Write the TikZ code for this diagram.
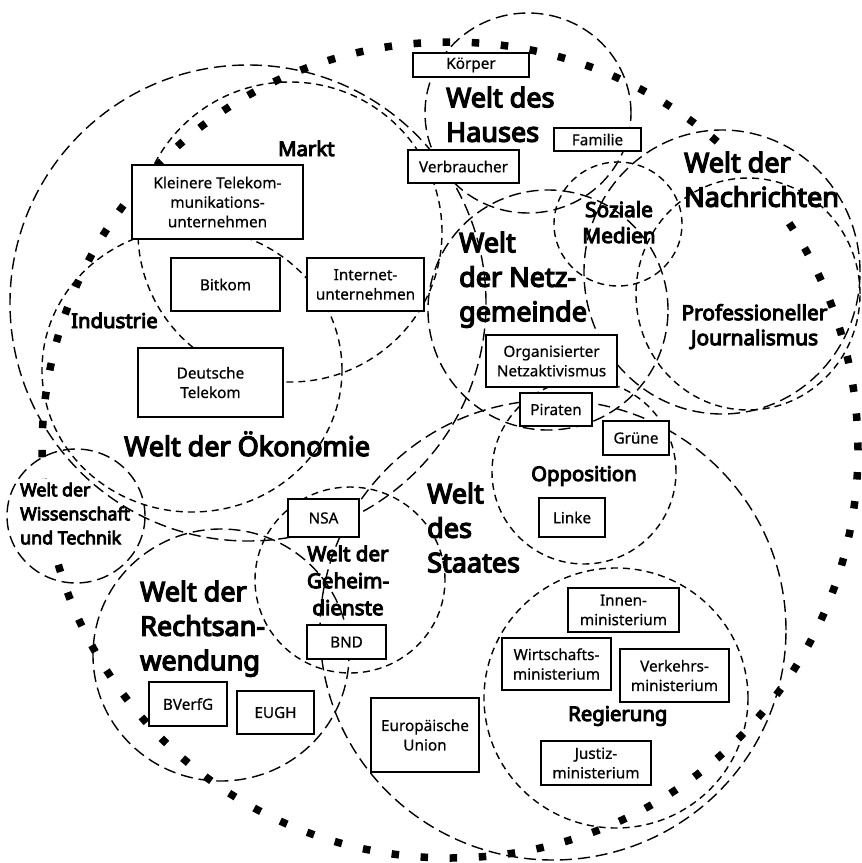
\documentclass[tikz,border=0pt]{standalone}
\usepackage{fontspec}
\setmainfont{Noto Sans}[AutoFakeBold=4.8]
\tikzset{
  longd/.style={line width=1.4pt, dash pattern=on 12pt off 6pt},
  shortd/.style={line width=1.4pt, dash pattern=on 7pt off 5pt},
  dotc/.style={line width=7.5pt, dash pattern=on 7.5pt off 21.63pt},
  box/.style={draw, line width=1.6pt, fill=white, inner sep=0pt, align=center,
              font=\fontsize{15.3}{19.5}\selectfont\addfontfeature{FakeBold=0.6}},
  biglab/.style={font=\fontsize{27}{34.5}\selectfont\bfseries, align=left, inner sep=0pt},
  smalllab/.style={font=\fontsize{20.3}{26}\selectfont\bfseries, align=center, inner sep=0pt},
}
\begin{document}
\begin{tikzpicture}[x=1pt,y=-1pt]
\useasboundingbox (0,0) rectangle (862,863);
\fill[white] (0,0) rectangle (862,863);

% big dotted circle
\draw[dotc] (450,450) circle [radius=408pt];
% the dots are hidden behind two labels
\fill[white] (681,148) rectangle (845,219);
\fill[white] (17,479) rectangle (135,549);

% long dashed worlds
\draw[longd] (248,303) ellipse [x radius=238pt, y radius=238pt];
\draw[longd] (528,113) ellipse [x radius=103pt, y radius=100pt];
\draw[longd] (722,272) ellipse [x radius=138pt, y radius=142pt];
\draw[longd] (548,310) ellipse [x radius=120pt, y radius=120pt];
\draw[longd] (553,630) ellipse [x radius=233pt, y radius=230pt];
\draw[longd] (221,655) ellipse [x radius=128pt, y radius=126pt];
\draw[longd] (76,516) ellipse [x radius=69pt, y radius=67pt];

% short dashed sub-areas
\draw[shortd] (290,232) ellipse [x radius=152pt, y radius=150pt];
\draw[shortd] (192,370) ellipse [x radius=150pt, y radius=142pt];
\draw[shortd] (618,224) ellipse [x radius=64pt, y radius=62pt];
\draw[shortd] (748,294) ellipse [x radius=112pt, y radius=116pt];
\draw[shortd] (584,472) ellipse [x radius=92pt, y radius=92pt];
\draw[shortd] (616,698) ellipse [x radius=132pt, y radius=130pt];
\draw[shortd] (350,580) ellipse [x radius=95pt, y radius=93pt];

% big labels
\node[biglab, anchor=north west] (haus) at (446,86.5) {Welt des\\Hauses};
\node[biglab, anchor=base west] (oeko) at (124,456) {Welt der Ökonomie};
\node[biglab, anchor=north west] (netz) at (459,231.5) {Welt\\der Netz-\\gemeinde};
\node[biglab, anchor=north west] (nachr) at (684,151.5) {Welt der\\Nachrichten};
\node[biglab, anchor=north west] (staat) at (427,482.5) {Welt\\des\\Staates};
\node[biglab, anchor=north west] (recht) at (140,580.5) {Welt der\\Rechtsan-\\wendung};

% small labels
\node[smalllab, anchor=north, font=\fontsize{20.6}{27}\selectfont\bfseries] (geheim) at (348,545.3) {Welt der\\Geheim-\\dienste};
\node[smalllab, anchor=north west, align=left,
      font=\fontsize{17.8}{24}\selectfont\bfseries] (wiss) at (20,482.5) {Welt der\\Wissenschaft\\und Technik};
\node[smalllab, anchor=base west] (markt) at (278,156) {Markt};
\node[smalllab, anchor=base west] (industrie) at (71,328) {Industrie};
\node[smalllab, anchor=north, font=\fontsize{20.8}{26}\selectfont\bfseries] (sozial) at (619,201) {Soziale\\Medien};
\node[smalllab, anchor=north, font=\fontsize{20.8}{25}\selectfont\bfseries] (journ) at (754.5,304) {Professioneller\\Journalismus};
\node[smalllab, anchor=base west] (oppo) at (531,481) {Opposition};
\node[smalllab, anchor=base west] (regier) at (568,721) {Regierung};

% boxes
\node[box, minimum width=116pt, minimum height=24pt] (koerper) at (471,65) {Körper};
\node[box, minimum width=111pt, minimum height=33pt] (verbr) at (463.5,166.5) {Verbraucher};
\node[box, minimum width=87pt, minimum height=23pt] (familie) at (597.5,139.5) {Familie};
\node[box, minimum width=171pt, minimum height=74pt] (kleinere) at (217.5,202) {Kleinere Telekom-\\munikations-\\unternehmen};
\node[box, minimum width=109pt, minimum height=53pt] (bitkom) at (225.5,284.5) {Bitkom};
\node[box, minimum width=117pt, minimum height=53pt] (internet) at (365.5,284.5) {Internet-\\unternehmen};
\node[box, minimum width=145pt, minimum height=69pt] (dtelekom) at (210.5,382.5) {Deutsche\\Telekom};
\node[box, minimum width=131pt, minimum height=52pt] (orga) at (551.5,361) {Organisierter\\Netzaktivismus};
\node[box, minimum width=72pt, minimum height=33pt] (piraten) at (556,409.5) {Piraten};
\node[box, minimum width=66pt, minimum height=34pt] (gruene) at (636,438) {Grüne};
\node[box, minimum width=66pt, minimum height=39pt] (linke) at (572,517.5) {Linke};
\node[box, minimum width=71pt, minimum height=38pt] (nsa) at (323.5,518) {NSA};
\node[box, minimum width=79pt, minimum height=34pt] (bnd) at (346.5,642) {BND};
\node[box, minimum width=78pt, minimum height=44pt] (bverfg) at (188,704) {BVerfG};
\node[box, minimum width=77pt, minimum height=43pt] (eugh) at (275.5,712.5) {EUGH};
\node[box, minimum width=108pt, minimum height=74pt] (eu) at (425,735) {Europäische\\Union};
\node[box, minimum width=111pt, minimum height=44pt] (innen) at (623.5,610) {Innen-\\ministerium};
\node[box, minimum width=109pt, minimum height=52pt] (wirt) at (556.5,664) {Wirtschafts-\\ministerium};
\node[box, minimum width=109pt, minimum height=53pt] (verk) at (674.5,675.5) {Verkehrs-\\ministerium};
\node[box, minimum width=110pt, minimum height=44pt] (justiz) at (596,763) {Justiz-\\ministerium};
\end{tikzpicture}
\end{document}
